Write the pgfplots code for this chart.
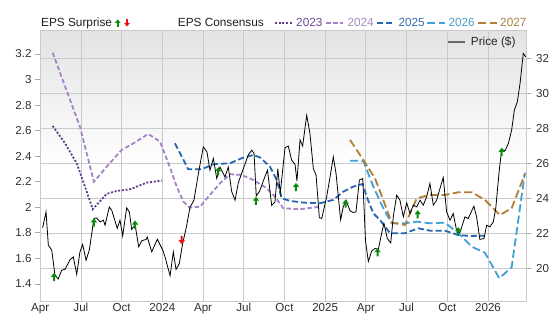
\documentclass[border=0pt]{standalone}
\usepackage{fontspec}
\setmainfont{Liberation Sans}
\usepackage{pgfplots}
\pgfplotsset{compat=1.18}
\definecolor{c23}{HTML}{603C8E}
\definecolor{c24}{HTML}{A682C6}
\definecolor{c25}{HTML}{2566B2}
\definecolor{c26}{HTML}{40A1D6}
\definecolor{c27}{HTML}{B27E36}
\definecolor{t23}{HTML}{6A4A94}
\definecolor{t24}{HTML}{A68AC4}
\definecolor{t25}{HTML}{386AAE}
\definecolor{t26}{HTML}{4A9CC8}
\definecolor{t27}{HTML}{A88040}
\definecolor{gridgray}{HTML}{CACACA}
\definecolor{tickgray}{HTML}{A8A8A8}
\definecolor{labelgray}{HTML}{303030}
\definecolor{bggray}{HTML}{E3E3E3}
\definecolor{arrgreen}{HTML}{0A8A0A}
\definecolor{arrred}{HTML}{F01010}
\pgfdeclareverticalshading{bgshade}{100bp}{color(0bp)=(white); color(25bp)=(white); color(50bp)=(white); color(75bp)=(bggray); color(100bp)=(bggray)}
\pgfdeclareplotmark{uarr}{%
  \pgfpathmoveto{\pgfpoint{-3.2pt}{0pt}}%
  \pgfpathlineto{\pgfpoint{3.2pt}{0pt}}%
  \pgfpathlineto{\pgfpoint{0pt}{4pt}}%
  \pgfpathclose
  \pgfpathrectangle{\pgfpoint{-1pt}{-4.2pt}}{\pgfpoint{2pt}{4.4pt}}%
  \pgfusepathqfill}
\pgfdeclareplotmark{darr}{%
  \pgfpathmoveto{\pgfpoint{-3.2pt}{0pt}}%
  \pgfpathlineto{\pgfpoint{3.2pt}{0pt}}%
  \pgfpathlineto{\pgfpoint{0pt}{-4pt}}%
  \pgfpathclose
  \pgfpathrectangle{\pgfpoint{-1pt}{-0.2pt}}{\pgfpoint{2pt}{4.4pt}}%
  \pgfusepathqfill}
\pgfplotsset{
  base/.style={at={(0pt,0pt)}, anchor=south west, scale only axis,
    width=485.8pt, height=270.3pt, xmin=0, xmax=35.8},
  tick label style={font=\fontsize{11.6}{14}\selectfont, text=labelgray},
}
\begin{document}
\begin{tikzpicture}[font=\fontsize{11.8}{14}\selectfont]
% background, grid, right axis
\begin{axis}[base, ymin=18.14, ymax=33.59,
  axis background/.style={shading=bgshade},
  xtick={0,3,...,33},
  xticklabels={Apr,Jul,Oct,2024,Apr,Jul,Oct,2025,Apr,Jul,Oct,2026},
  ytick={20,22,...,32},
  yticklabels={20,22,24,26,28,30,32},
  ytick pos=right, yticklabel pos=right,
  grid=major, major grid style={draw=gridgray, line width=0.8pt},
  axis line style={draw=gridgray, line width=0.8pt},
  tick align=outside, major tick length=5pt,
  xtick style={draw=none},
  ytick style={draw=tickgray, line width=0.8pt},
  xticklabel style={inner sep=0pt, text height=8.5pt, text depth=0pt, yshift=3.5pt},
  yticklabel style={inner sep=0pt, anchor=west, xshift=5pt},
]
\addplot[draw=none] coordinates {(0,20)};
\end{axis}
% EPS consensus lines, left axis
\begin{axis}[base, ymin=1.267, ymax=3.382,
  axis line style={draw=none},
  xtick=\empty,
  ytick={1.4,1.6,1.8,2,2.2,2.4,2.6,2.8,3,3.2},
  yticklabels={1.4,1.6,1.8,2,2.2,2.4,2.6,2.8,3,3.2},
  ytick pos=left, yticklabel pos=left,
  tick align=outside, major tick length=5pt,
  ytick style={draw=tickgray, line width=0.8pt},
  yticklabel style={inner sep=0pt, anchor=east, xshift=-3.5pt},
]
\addplot[c23, line width=1.8pt, dash pattern=on 2pt off 1.7pt] coordinates {
(0.92,2.637) (1.83,2.501) (2.69,2.345) (3.30,2.162) (3.87,1.985) (4.90,2.105)
(5.64,2.128) (6.62,2.141) (7.11,2.162) (7.85,2.193) (8.95,2.209)};
\addplot[c24, line width=1.8pt, dash pattern=on 4.5pt off 2.5pt] coordinates {
(0.92,3.21) (2.93,2.63) (3.96,2.20) (4.90,2.318) (6.00,2.449) (6.86,2.50)
(7.97,2.574) (8.83,2.514) (9.57,2.31) (10.06,2.162) (10.55,2.044) (11.04,1.997)
(11.78,2.005) (12.51,2.097) (13.25,2.188) (13.99,2.259) (14.85,2.253) (15.70,2.214)
(16.69,2.149) (17.30,2.083) (17.91,1.993) (19.15,1.985) (20.62,2.005)};
\addplot[c25, line width=1.8pt, dash pattern=on 6pt off 3pt] coordinates {
(9.93,2.501) (10.91,2.298) (11.90,2.298) (12.76,2.337) (13.99,2.345) (14.85,2.384)
(15.70,2.41) (16.20,2.39) (16.93,2.318) (17.43,2.214) (17.80,2.071) (18.41,2.05)
(19.39,2.037) (20.62,2.032) (21.60,2.058) (22.34,2.123) (23.07,2.162) (23.77,2.183)
(24.06,2.083) (24.55,1.953) (25.04,1.901) (25.78,1.797) (26.88,1.797) (27.86,1.836)
(28.72,1.817) (29.83,1.817) (30.81,1.783) (31.66,1.776) (32.77,1.778)};
\addplot[c26, line width=1.8pt, dash pattern=on 8pt off 3.5pt] coordinates {
(22.83,2.365) (23.81,2.363) (24.55,2.162) (25.28,1.993) (25.90,1.875) (26.88,1.875)
(27.75,1.888) (28.72,1.875) (29.83,1.88) (30.81,1.797) (31.80,1.692) (32.77,1.645)
(33.83,1.445) (34.74,1.53) (35.72,2.271)};
\addplot[c27, line width=1.8pt, dash pattern=on 8pt off 3.5pt] coordinates {
(22.83,2.527) (23.81,2.371) (24.67,2.227) (25.28,2.058) (25.90,1.88) (26.88,1.862)
(27.75,2.071) (28.72,2.097) (29.83,2.097) (30.81,2.118) (31.80,2.118) (32.77,2.058)
(33.88,1.94) (34.74,1.993) (35.72,2.26)};
\end{axis}
% price and surprises, right scale
\begin{axis}[base, ymin=18.14, ymax=33.59, hide axis]
\addplot[black, line width=0.8pt] coordinates {
(0.18,22.32) (0.43,23.23) (0.60,21.33) (0.85,21.05) (1.09,19.6) (1.33,19.4)
(1.58,19.9) (1.83,19.95) (2.20,20.5) (2.44,20.66) (2.69,19.66) (2.93,20.95)
(3.13,21.37) (3.38,20.47) (3.62,21.05) (3.96,22.86) (4.16,22.89) (4.41,22.66)
(4.65,22.76) (4.78,22.47) (5.09,23.52) (5.27,23.33) (5.68,22.29) (5.88,22.76)
(6.08,21.86) (6.37,23.46) (6.57,23.23) (6.74,22.23) (6.99,22.5) (7.26,21.24)
(7.48,21.58) (7.80,21.66) (7.89,21.8) (8.22,20.95) (8.63,21.67) (9.03,21.05)
(9.20,20.66) (9.57,19.58) (9.81,20.95) (10.01,19.94) (10.25,20.28) (10.50,21.43)
(10.78,22.4) (11.04,23.5) (11.33,23.9) (11.65,25.4) (12.02,26.95) (12.29,26.66)
(12.51,25.62) (12.76,26.29) (13.01,25.14) (13.25,25.8) (13.62,25.23) (13.86,25.8)
(14.11,24.4) (14.36,23.9) (14.60,24.9) (14.97,25.7) (15.34,26.5) (15.59,26.76)
(15.76,26.57) (15.92,24.15) (16.16,24.4) (16.49,25.1) (16.75,25.62) (17.06,23.6)
(17.30,23.8) (17.51,25.7) (17.69,24.3) (18.04,26.9) (18.28,27.0) (18.53,26.19)
(18.78,25.95) (18.92,25.0) (19.15,27.35) (19.34,27.0) (19.64,28.76) (19.88,27.7)
(20.13,25.7) (20.33,25.33) (20.57,22.9) (20.75,22.86) (21.11,24.1) (21.36,25.23)
(21.60,26.38) (21.80,25.43) (22.14,22.78) (22.33,23.52) (22.54,23.9) (22.83,23.3)
(23.06,23.2) (23.27,23.23) (23.52,25.05) (23.77,25.14) (23.97,21.6) (24.18,20.4)
(24.43,21.0) (24.67,21.14) (24.92,21.1) (25.16,22.0) (25.33,22.57) (25.58,21.71)
(25.83,21.46) (26.02,22.95) (26.27,24.19) (26.51,23.9) (26.76,22.95) (27.01,23.75)
(27.25,23.14) (27.50,23.62) (27.75,23.52) (27.99,23.9) (28.23,23.62) (28.48,24.1)
(28.72,24.86) (28.97,23.62) (29.21,23.9) (29.46,24.57) (29.70,25.2) (29.95,23.23)
(30.20,22.76) (30.44,23.14) (30.68,22.19) (30.93,22.05) (31.30,22.95) (31.54,22.85)
(31.96,23.56) (32.16,22.95) (32.40,21.66) (32.70,21.71) (32.90,22.47) (33.14,22.38)
(33.39,22.66) (33.57,23.43) (33.83,25.62) (34.01,26.8) (34.25,26.72) (34.50,27.14)
(34.74,27.9) (34.94,29.05) (35.16,29.52) (35.36,30.57) (35.60,32.29) (35.78,32.1)};
\addplot[only marks, mark=uarr, fill=arrgreen, draw=none] coordinates {
(1.02,19.52) (3.96,22.63) (6.99,22.51) (13.12,25.56) (15.90,23.87) (18.85,24.66)
(22.50,23.71) (24.86,20.93) (27.82,23.1) (30.81,22.13) (34.01,26.67)};
\addplot[only marks, mark=darr, fill=arrred, draw=none] coordinates {(10.43,21.62)};
\end{axis}
% price legend inside plot
\draw[color=black!58, line width=2pt] (407.3pt,259.3pt) -- (424.8pt,259.3pt);
\node[anchor=base west, inner sep=0pt, text=black!85] at (430.5pt,255.3pt) {Price (\$)};
% top legend
\node[anchor=base west, inner sep=0pt, text=black!88] at (0.8pt,274pt) {EPS Surprise};
\begin{scope}[shift={(77.5pt,278pt)}]
\fill[arrgreen] (-2.9pt,0pt) -- (2.9pt,0pt) -- (0pt,3.6pt) -- cycle;
\fill[arrgreen] (-0.9pt,-3.7pt) rectangle (0.9pt,0.1pt);
\end{scope}
\begin{scope}[shift={(86.8pt,278pt)}]
\fill[arrred] (-2.9pt,0pt) -- (2.9pt,0pt) -- (0pt,-3.6pt) -- cycle;
\fill[arrred] (-0.9pt,-0.1pt) rectangle (0.9pt,3.7pt);
\end{scope}
\node[anchor=base west, inner sep=0pt, text=black!88] at (137.5pt,274pt) {EPS Consensus};
\draw[c23, line width=1.8pt, dash pattern=on 2pt off 1.7pt] (234.8pt,277.7pt) -- (253.1pt,277.7pt);
\node[anchor=base west, inner sep=0pt, text=t23] at (255.8pt,274pt) {2023};
\draw[c24, line width=1.8pt, dash pattern=on 4.5pt off 2.5pt] (285.8pt,277.7pt) -- (302.5pt,277.7pt);
\node[anchor=base west, inner sep=0pt, text=t24] at (307.1pt,274pt) {2024};
\draw[c25, line width=1.8pt, dash pattern=on 6pt off 3pt] (337.1pt,277.7pt) -- (354.8pt,277.7pt);
\node[anchor=base west, inner sep=0pt, text=t25] at (358.1pt,274pt) {2025};
\draw[c26, line width=1.8pt, dash pattern=on 8pt off 3.5pt] (387.1pt,277.7pt) -- (404.8pt,277.7pt);
\node[anchor=base west, inner sep=0pt, text=t26] at (408.1pt,274pt) {2026};
\draw[c27, line width=1.8pt, dash pattern=on 8pt off 3.5pt] (438.1pt,277.7pt) -- (456.5pt,277.7pt);
\node[anchor=base west, inner sep=0pt, text=t27] at (459.8pt,274pt) {2027};
\pgfresetboundingbox
\path[use as bounding box] (-40.2pt,-14pt) rectangle (515.8pt,301pt);
\end{tikzpicture}
\end{document}
